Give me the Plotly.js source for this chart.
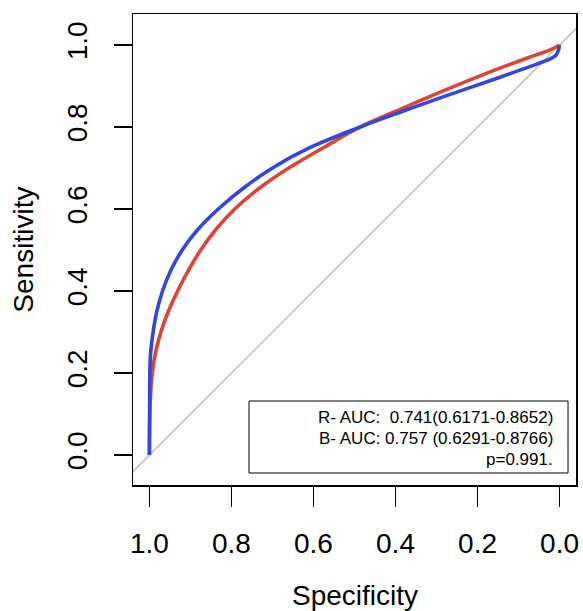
<!DOCTYPE html>
<html>
<head>
<meta charset="utf-8">
<script src="https://cdn.plot.ly/plotly-3.0.1.min.js"></script>
<style>html,body{margin:0;padding:0;background:#fff;}#chart{width:583px;height:611px;}</style>
</head>
<body>
<div id="chart"></div>
<script>
// Tick values and labels
const tickVals = [0, 0.2, 0.4, 0.6, 0.8, 1.0];
const tickText = ['0.0', '0.2', '0.4', '0.6', '0.8', '1.0'];

// Red ROC curve (specificity, sensitivity)
const redSpec = [1.0, 0.999, 0.997, 0.993, 0.985, 0.972, 0.954, 0.931, 0.905, 0.875, 0.838, 0.792, 0.733, 0.660, 0.575, 0.486, 0.389, 0.291, 0.152, 0.071, 0.023, 0.0];
const redSens = [0.0, 0.10, 0.15, 0.20, 0.25, 0.30, 0.35, 0.40, 0.45, 0.50, 0.55, 0.60, 0.65, 0.70, 0.75, 0.80, 0.843, 0.885, 0.941, 0.971, 0.988, 1.0];

// Blue ROC curve (specificity, sensitivity)
const blueSpec = [1.0, 0.9995, 0.999, 0.997, 0.991, 0.982, 0.968, 0.948, 0.920, 0.882, 0.832, 0.772, 0.700, 0.608, 0.486, 0.389, 0.291, 0.152, 0.071, 0.023, 0.009, 0.003, 0.0];
const blueSens = [0.0, 0.10, 0.20, 0.25, 0.30, 0.35, 0.40, 0.45, 0.50, 0.55, 0.60, 0.65, 0.70, 0.75, 0.80, 0.836, 0.871, 0.919, 0.948, 0.966, 0.975, 0.987, 1.0];

// Chance diagonal: sensitivity = 1 - specificity
const diagSpec = [1.2, -0.2];
const diagSens = diagSpec.map(v => 1 - v);

// Legend box texts
const boxLines = [
  'R- AUC:\u00a0\u00a00.741(0.6171-0.8652)',
  'B- AUC: 0.757 (0.6291-0.8766)',
  'p=0.991.'
];

const FONT = 'Liberation Sans, Arial, Helvetica, sans-serif';

const traces = [
  {x: diagSpec, y: diagSens, mode: 'lines', line: {color: '#c0c0c0', width: 1.5}, hoverinfo: 'skip'},
  {x: redSpec, y: redSens, mode: 'lines', line: {color: '#dc4435', width: 3.6, shape: 'spline', smoothing: 1}},
  {x: blueSpec, y: blueSens, mode: 'lines', line: {color: '#3446dc', width: 3.6, shape: 'spline', smoothing: 1}}
];

const boxY = [0.1423, 0.0977, 0.0552];
const annotations = boxLines.map((t, i) => ({
  text: t, xref: 'paper', yref: 'paper', x: 0.9526, y: boxY[i],
  xanchor: 'right', yanchor: 'middle', showarrow: false, align: 'right',
  font: {family: FONT, size: 17, color: '#000'}
}));
annotations.push({
  text: 'Specificity', xref: 'paper', yref: 'paper', x: 0.5, y: -0.235,
  xanchor: 'center', yanchor: 'middle', showarrow: false,
  font: {family: FONT, size: 28, color: '#000'}
});
annotations.push({
  text: 'Sensitivity', xref: 'paper', yref: 'paper', x: -0.248, y: 0.5,
  xanchor: 'center', yanchor: 'middle', showarrow: false, textangle: -90,
  font: {family: FONT, size: 28, color: '#000'}
});

const layout = {
  width: 583, height: 611,
  margin: {l: 133, r: 7, t: 14, b: 126, pad: 0},
  paper_bgcolor: '#fff', plot_bgcolor: '#fff',
  showlegend: false,
  xaxis: {
    range: [1.04, -0.04], tickvals: tickVals, ticktext: tickText,
    ticks: 'outside', ticklen: 20, tickwidth: 1.5, tickcolor: '#000',
    showline: true, mirror: true, linecolor: '#000', linewidth: 1.5,
    showgrid: false, zeroline: false, ticklabelstandoff: 13,
    tickfont: {family: FONT, size: 28, color: '#000'}
  },
  yaxis: {
    range: [-0.0732, 1.0756], tickvals: tickVals, ticktext: tickText,
    ticks: 'outside', ticklen: 18, tickwidth: 1.5, tickcolor: '#000',
    showline: true, mirror: true, linecolor: '#000', linewidth: 1.5,
    showgrid: false, zeroline: false, tickangle: -90, ticklabelstandoff: 15,
    tickfont: {family: FONT, size: 28, color: '#000'}
  },
  shapes: [{
    type: 'rect', xref: 'paper', yref: 'paper',
    x0: 0.2619, x1: 0.982, y0: 0.0255, y1: 0.1783,
    line: {color: '#000', width: 1}, fillcolor: 'rgba(255,255,255,0)'
  }],
  annotations: annotations
};

Plotly.newPlot('chart', traces, layout, {displayModeBar: false, staticPlot: true});
</script>
</body>
</html>
